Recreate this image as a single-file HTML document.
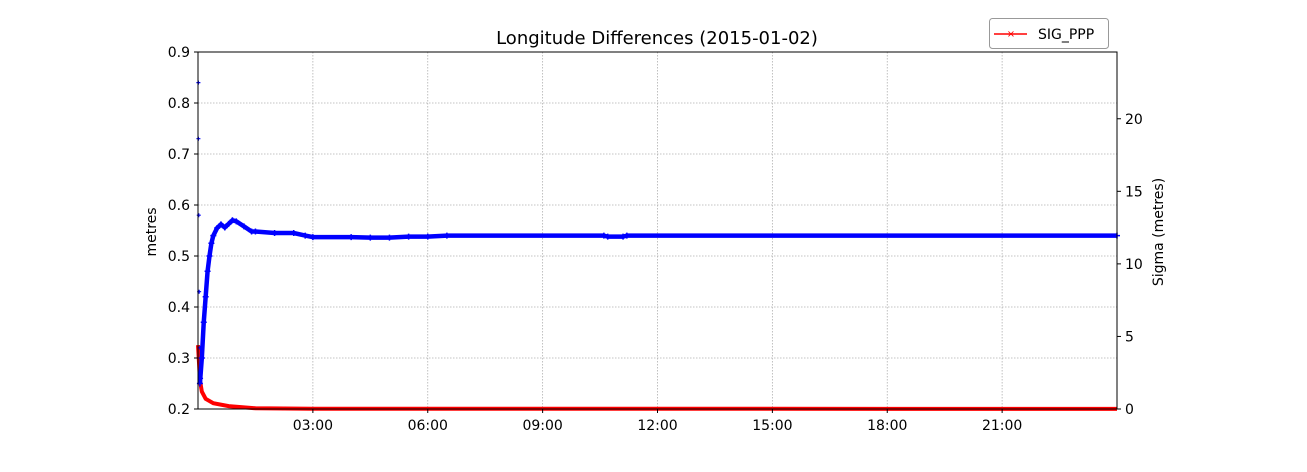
<!DOCTYPE html>
<html><head><meta charset="utf-8"><style>
body{margin:0;background:#fff;}
svg text{font-family:"DejaVu Sans","Liberation Sans",sans-serif;fill:#000;}
</style></head><body>
<svg id="chart" width="1307" height="467" xmlns="http://www.w3.org/2000/svg">
<text x="657" y="44" font-size="18" text-anchor="middle">Longitude Differences (2015-01-02)</text>
<g id="grid"></g>
<g id="series"></g>
<rect x="198" y="52" width="919" height="357" fill="none" stroke="#000" stroke-width="1"/>
<g id="axes"></g>
<text transform="translate(156,232) rotate(-90)" font-size="14" text-anchor="middle">metres</text>
<text transform="translate(1163,232) rotate(-90)" font-size="14" text-anchor="middle">Sigma (metres)</text>
<g>
<rect x="989.5" y="18.5" width="119" height="30" rx="3" fill="#fff" stroke="#999"/>
<line x1="994" y1="34" x2="1027" y2="34" stroke="red" stroke-width="1.5"/>
<text x="1011" y="37" font-size="10" fill="red" text-anchor="middle" style="fill:red">×</text>
<text x="1038" y="39" font-size="14">SIG_PPP</text>
</g>
</svg>
<script>
const blueTimes=[0.05,0.1,0.15,0.2,0.25,0.3,0.35,0.4,0.5,0.6,0.7,0.8,0.9,1.0,1.2,1.4,1.5,2.0,2.5,2.8,3.0,4.0,4.5,5.0,5.5,6.0,6.5,10.6,10.7,11.1,11.2,24.0];
const blueValues=[0.25,0.3,0.37,0.42,0.47,0.5,0.525,0.54,0.555,0.562,0.556,0.563,0.57,0.568,0.558,0.548,0.548,0.545,0.545,0.54,0.537,0.537,0.536,0.536,0.538,0.538,0.54,0.54,0.538,0.538,0.54,0.54];
const blueScatterTimes=[0.01,0.01,0.02,0.03,0.05,0.08];
const blueScatterValues=[0.84,0.73,0.58,0.43,0.32,0.26];
const redTimes=[0,0.03,0.05,0.1,0.2,0.4,0.8,1.5,3.0,24.0];
const redValues=[4.4,3.0,2.0,1.2,0.7,0.4,0.2,0.05,0.02,0.01];
const xTicks=[3,6,9,12,15,18,21];
const xTickLabels=["03:00","06:00","09:00","12:00","15:00","18:00","21:00"];
const yTicks=[0.2,0.3,0.4,0.5,0.6,0.7,0.8,0.9];
const y2Ticks=[0,5,10,15,20];

const L=198,R=1117,T=52,B=409;
const x=t=>L+(t/24)*(R-L);
const y=v=>B-(v-0.2)/0.7*(B-T);
const y2=v=>B-(v/24.6)*(B-T);
const NS="http://www.w3.org/2000/svg";
const grid=document.getElementById('grid'),axes=document.getElementById('axes'),ser=document.getElementById('series');
function mk(tag,attrs,parent){const e=document.createElementNS(NS,tag);for(const k in attrs)e.setAttribute(k,attrs[k]);parent.appendChild(e);return e;}

xTicks.forEach((t,i)=>{
  const g=mk('line',{x1:x(t),x2:x(t),y1:T,y2:B,stroke:'#b0b0b0','stroke-dasharray':'1.5,1.5','stroke-width':0.8},grid);
  
  
  const tk=mk('line',{x1:x(t),x2:x(t),y1:B,y2:B+4,stroke:'#000'},axes);
  
  
  const tx=mk('text',{x:x(t),y:B+21,'font-size':14,'text-anchor':'middle'},axes);
  tx.textContent=xTickLabels[i];
  
  
});
yTicks.forEach(v=>{
  const g=mk('line',{x1:L,x2:R,y1:y(v),y2:y(v),stroke:'#b0b0b0','stroke-dasharray':'1.5,1.5','stroke-width':0.8},grid);
  
  
  const tk=mk('line',{x1:L-4,x2:L,y1:y(v),y2:y(v),stroke:'#000'},axes);
  
  
  const tx=mk('text',{x:L-8,y:y(v)+5,'font-size':14,'text-anchor':'end'},axes);
  tx.textContent=v.toFixed(1);
  
  
});
y2Ticks.forEach(v=>{
  const tk=mk('line',{x1:R,x2:R+4,y1:y2(v),y2:y2(v),stroke:'#000'},axes);
  
  
  const tx=mk('text',{x:R+8,y:y2(v)+5,'font-size':14},axes);
  tx.textContent=String(v);
  
  
});

const rp=redTimes.map((t,i)=>x(t)+','+y2(redValues[i])).join(' ');
const rl=mk('polyline',{points:rp,fill:'none',stroke:'red','stroke-width':4},ser);



const bp=blueTimes.map((t,i)=>x(t)+','+y(blueValues[i])).join(' ');
const bl=mk('polyline',{points:bp,fill:'none',stroke:'blue','stroke-width':4.5},ser);


blueTimes.forEach((t,i)=>{
  const p=mk('path',{d:`M${x(t)-3},${y(blueValues[i])}h6M${x(t)},${y(blueValues[i])-3}v6`,stroke:'blue','stroke-width':1.5},ser);
  
  
});
blueScatterTimes.forEach((t,i)=>{
  const p=mk('path',{d:`M${x(t)-2},${y(blueScatterValues[i])}h4M${x(t)},${y(blueScatterValues[i])-2}v4`,stroke:'blue','stroke-width':1.2},ser);
  
  
});
</script>
</body></html>
